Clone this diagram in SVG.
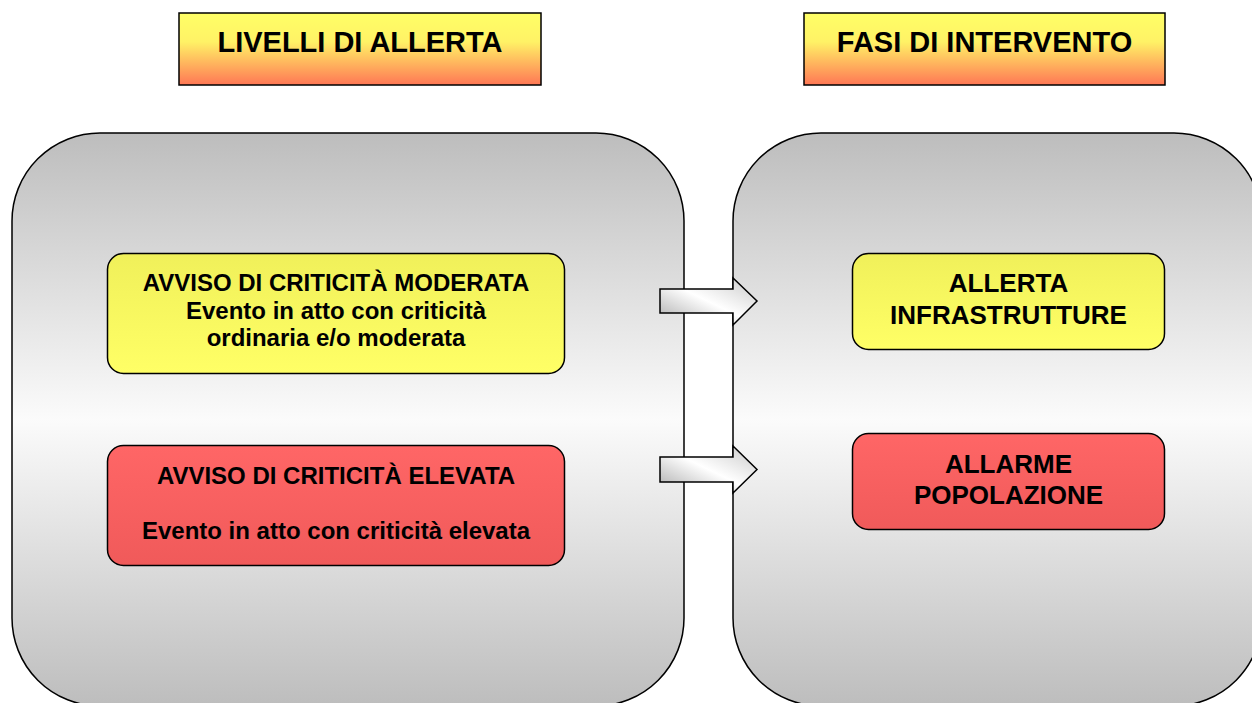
<svg xmlns="http://www.w3.org/2000/svg" width="1252" height="703" viewBox="0 0 1252 703">
<defs>
<linearGradient id="gPanel" x1="0" y1="0" x2="0" y2="1">
<stop offset="0" stop-color="#bdbdbd"/>
<stop offset="0.5" stop-color="#fbfbfb"/>
<stop offset="1" stop-color="#bdbdbd"/>
</linearGradient>
<linearGradient id="gTitle" x1="0" y1="0" x2="0" y2="1">
<stop offset="0" stop-color="#ffff66"/>
<stop offset="0.4" stop-color="#fff266"/>
<stop offset="1" stop-color="#ff7755"/>
</linearGradient>
<linearGradient id="gYellow" x1="0" y1="0" x2="0" y2="1">
<stop offset="0" stop-color="#f0f05a"/>
<stop offset="1" stop-color="#ffff66"/>
</linearGradient>
<linearGradient id="gRed" x1="0" y1="0" x2="0" y2="1">
<stop offset="0" stop-color="#ff6666"/>
<stop offset="1" stop-color="#f05a5a"/>
</linearGradient>
<linearGradient id="gArrow" x1="0" y1="1" x2="1" y2="0">
<stop offset="0" stop-color="#a8a8a8"/>
<stop offset="0.5" stop-color="#ffffff"/>
<stop offset="1" stop-color="#c8c8c8"/>
</linearGradient>
<style>
.panel{fill:url(#gPanel);stroke:#000;stroke-width:1.5}
.title{fill:url(#gTitle);stroke:#000;stroke-width:1.5}
.yel{fill:url(#gYellow);stroke:#000;stroke-width:1.5}
.red{fill:url(#gRed);stroke:#000;stroke-width:1.5}
.arrow{fill:url(#gArrow);stroke:#000;stroke-width:1.5;stroke-linejoin:miter}
text{font-family:"Liberation Sans",Arial,sans-serif;font-weight:bold;fill:#000;text-anchor:middle}
.t29{font-size:29px}
.t24{font-size:24px}
.t26{font-size:26px}
</style>
</defs>
<rect width="1252" height="703" fill="#ffffff"/>
<g id="panel-left">
<rect class="panel" x="12" y="133" width="672" height="573" rx="88" ry="88"/>
</g>
<g id="panel-right">
<rect class="panel" x="733" y="133" width="529" height="573" rx="88" ry="88"/>
</g>
<g id="title-livelli">
<rect class="title" x="179" y="13" width="362" height="72"/>
<text class="t29" x="360" y="52">LIVELLI DI ALLERTA</text>
</g>
<g id="title-fasi">
<rect class="title" x="804" y="13" width="361" height="72"/>
<text class="t29" x="984.5" y="52">FASI DI INTERVENTO</text>
</g>
<g id="avviso-moderata">
<rect class="yel" x="107.5" y="253.5" width="457" height="120" rx="16" ry="16"/>
<text class="t24" x="336" y="291">AVVISO DI CRITICITÀ MODERATA</text>
<text class="t24" x="336" y="318.5">Evento in atto con criticità</text>
<text class="t24" x="336" y="346">ordinaria e/o moderata</text>
</g>
<g id="avviso-elevata">
<rect class="red" x="107.5" y="445.5" width="457" height="120" rx="16" ry="16"/>
<text class="t24" x="336" y="483.5">AVVISO DI CRITICITÀ ELEVATA</text>
<text class="t24" x="336" y="538.5">Evento in atto con criticità elevata</text>
</g>
<g id="allerta-infrastrutture">
<rect class="yel" x="852.5" y="253.5" width="312" height="96" rx="16" ry="16"/>
<text class="t26" x="1008.5" y="292">ALLERTA</text>
<text class="t26" x="1008.5" y="324">INFRASTRUTTURE</text>
</g>
<g id="allarme-popolazione">
<rect class="red" x="852.5" y="433.5" width="312" height="96" rx="16" ry="16"/>
<text class="t26" x="1008.5" y="473">ALLARME</text>
<text class="t26" x="1008.5" y="504">POPOLAZIONE</text>
</g>
<g id="connectors">
<polygon class="arrow" points="660,289 733,289 733,278 757,301 733,325 733,313 660,313"/>
<polygon class="arrow" points="660,457 733,457 733,446 757,469.5 733,493 733,482 660,482"/>
</g>
</svg>
